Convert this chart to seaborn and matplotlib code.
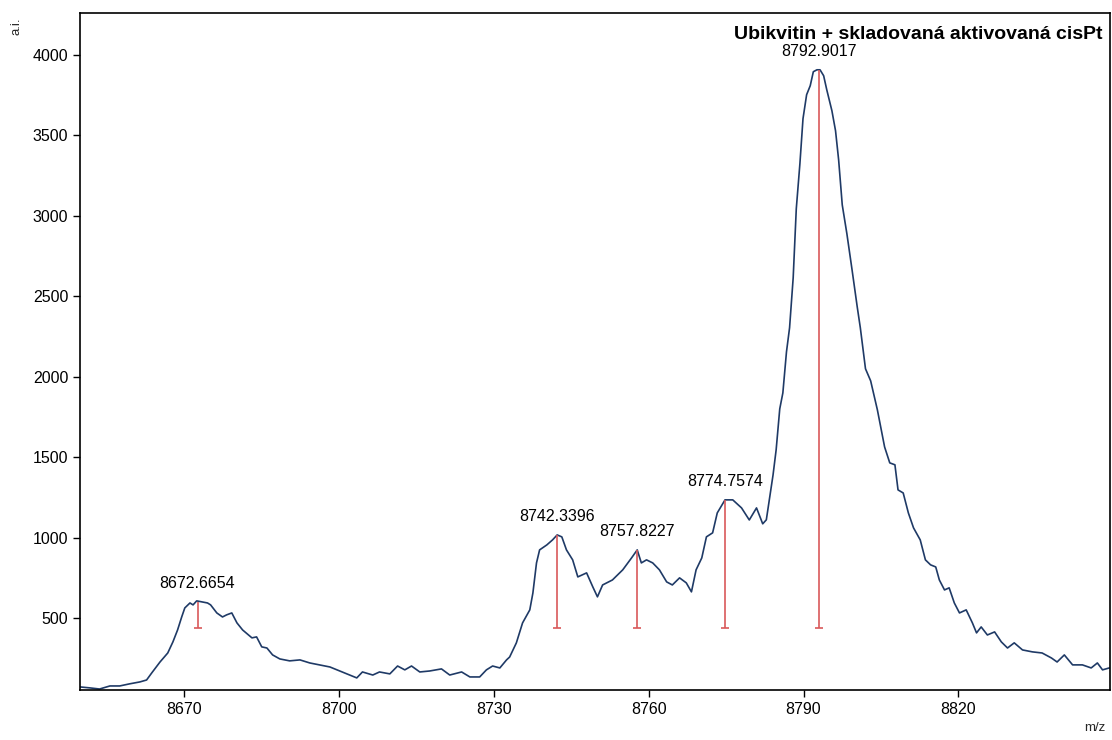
import matplotlib
matplotlib.use("Agg")
import matplotlib.pyplot as plt
import seaborn as sns
import pandas as pd

# Mass spectrum trace (m/z, intensity in a.i.)
mz = [
    8649.9, 8651.8, 8653.7, 8655.7, 8657.6, 8659.5, 8661.5, 8662.8, 8663.8, 8665.4,
    8666.9, 8667.9, 8668.8, 8669.6, 8670.2, 8671.2, 8671.8, 8672.5, 8673.5, 8674.6,
    8675.2, 8676.4, 8677.5, 8678.3, 8679.3, 8680.3, 8681.4, 8683.2, 8684.1, 8685.1,
    8686.1, 8687.2, 8688.6, 8690.5, 8692.5, 8694.4, 8696.3, 8698.3, 8700.2, 8702.1,
    8703.5, 8704.6, 8706.6, 8707.9, 8709.9, 8711.4, 8712.8, 8714.1, 8715.7, 8717.6,
    8719.9, 8721.5, 8723.8, 8725.4, 8727.3, 8728.6, 8729.8, 8731.2, 8732.5, 8733.1,
    8734.4, 8735.6, 8737.0, 8737.6, 8738.3, 8738.9, 8740.3, 8741.4, 8742.3, 8743.2,
    8744.1, 8745.3, 8746.3, 8748.0, 8749.2, 8750.1, 8751.1, 8753.0, 8755.0, 8756.7,
    8757.8, 8758.6, 8759.6, 8760.8, 8762.1, 8763.5, 8764.6, 8766.0, 8767.3, 8768.3,
    8769.2, 8770.3, 8771.2, 8772.4, 8773.3, 8774.8, 8776.3, 8778.0, 8779.5, 8780.9,
    8782.1, 8782.8, 8783.4, 8784.1, 8784.7, 8785.4, 8786.0, 8786.7, 8787.3, 8788.0,
    8788.6, 8789.3, 8789.9, 8790.6, 8791.3, 8791.9, 8792.6, 8793.2, 8793.9, 8794.5,
    8795.5, 8796.2, 8796.8, 8797.5, 8798.4, 8799.4, 8800.4, 8801.0, 8802.0, 8803.0,
    8804.3, 8805.7, 8806.7, 8807.7, 8808.3, 8809.3, 8810.3, 8811.3, 8812.6, 8813.6,
    8814.6, 8815.6, 8816.3, 8817.3, 8818.2, 8819.2, 8820.2, 8821.5, 8822.7, 8823.5,
    8824.4, 8825.6, 8827.0, 8828.3, 8829.5, 8830.8, 8832.4, 8834.3, 8836.2, 8838.0,
    8839.1, 8840.5, 8842.1, 8844.0, 8845.7, 8846.9, 8847.9, 8849.2,
]
intensity = [
    71, 65, 58, 77, 77, 90, 102, 114, 158, 226,
    282, 351, 425, 506, 562, 593, 581, 606, 600, 593,
    581, 531, 506, 519, 531, 469, 425, 376, 382, 320,
    313, 270, 245, 233, 239, 220, 208, 195, 170, 145,
    127, 164, 145, 164, 152, 201, 177, 201, 164, 170,
    183, 145, 164, 133, 133, 177, 201, 189, 239, 257,
    345, 469, 550, 655, 842, 923, 954, 985, 1016, 1004,
    923, 861, 755, 780, 693, 631, 705, 736, 799, 873,
    923, 842, 861, 842, 799, 724, 705, 749, 718, 662,
    799, 873, 1004, 1029, 1153, 1234, 1234, 1184, 1109, 1184,
    1085, 1110, 1240, 1389, 1545, 1800, 1899, 2154, 2304, 2615,
    3044, 3324, 3604, 3753, 3809, 3896, 3908, 3908, 3871, 3784,
    3653, 3529, 3348, 3068, 2888, 2664, 2434, 2304, 2049, 1974,
    1794, 1563, 1464, 1452, 1296, 1277, 1153, 1060, 985, 861,
    830, 817, 736, 674, 687, 593, 531, 550, 469, 407,
    444, 394, 413, 351, 313, 345, 301, 289, 282, 251,
    226, 270, 208, 208, 189, 220, 177, 189,
]

# Picked peaks: position, apex intensity and label
peak_mz = [8672.6654, 8742.3396, 8757.8227, 8774.7574, 8792.9017]
peak_height = [600, 1018, 925, 1236, 3907]
peak_labels = ["8672.6654", "8742.3396", "8757.8227", "8774.7574", "8792.9017"]
peak_base = 438

x_ticks = [8670, 8700, 8730, 8760, 8790, 8820]
y_ticks = [500, 1000, 1500, 2000, 2500, 3000, 3500, 4000]
title = "Ubikvitin + skladovaná aktivovaná cisPt"

sns.set_style("ticks")
plt.rcParams["font.family"] = ["Liberation Sans", "DejaVu Sans"]

fig = plt.figure(figsize=(11.12, 7.40), dpi=100)
ax = fig.add_axes([0.0719, 0.0676, 0.9261, 0.9148])

spec = pd.DataFrame({"mz": mz, "intensity": intensity})
sns.lineplot(data=spec, x="mz", y="intensity", ax=ax, estimator=None,
             sort=False, color="#1f3a66", linewidth=1.2)

# Peak markers: stems from a common base up to each apex
red = "#d9595a"
ax.vlines(peak_mz, peak_base, peak_height, color=red, linewidth=1.2)
ax.plot(peak_mz, [peak_base] * len(peak_mz), linestyle="none", marker="_",
        markersize=6, markeredgewidth=1.2, color=red)
for px, py, lab in zip(peak_mz, peak_height, peak_labels):
    ax.annotate(lab, (px, py), xytext=(0, 13), textcoords="offset points",
                ha="center", va="center", fontsize=11.5, color="black")

ax.set_xlim(8649.9, 8849.3)
ax.set_ylim(52, 4261)
ax.set_xticks(x_ticks)
ax.set_yticks(y_ticks)
ax.set_xlabel("")
ax.set_ylabel("")
ax.tick_params(axis="both", direction="out", length=5, width=1.0,
               labelsize=11.5, colors="black")
for side in ["left", "bottom", "top", "right"]:
    ax.spines[side].set_visible(True)
    ax.spines[side].set_color("black")
    ax.spines[side].set_linewidth(1.2)

ax.text(0.993, 0.968, title, transform=ax.transAxes, ha="right", va="center",
        fontsize=14, fontweight="bold", color="black")
fig.text(17 / 1112, 1 - 26 / 740, "a.i.", rotation=90, ha="center",
         va="center", fontsize=9.5)
fig.text(1095 / 1112, 1 - 728 / 740, "m/z", ha="center", va="center",
         fontsize=9.5)

fig.savefig("out.png", dpi=100)
